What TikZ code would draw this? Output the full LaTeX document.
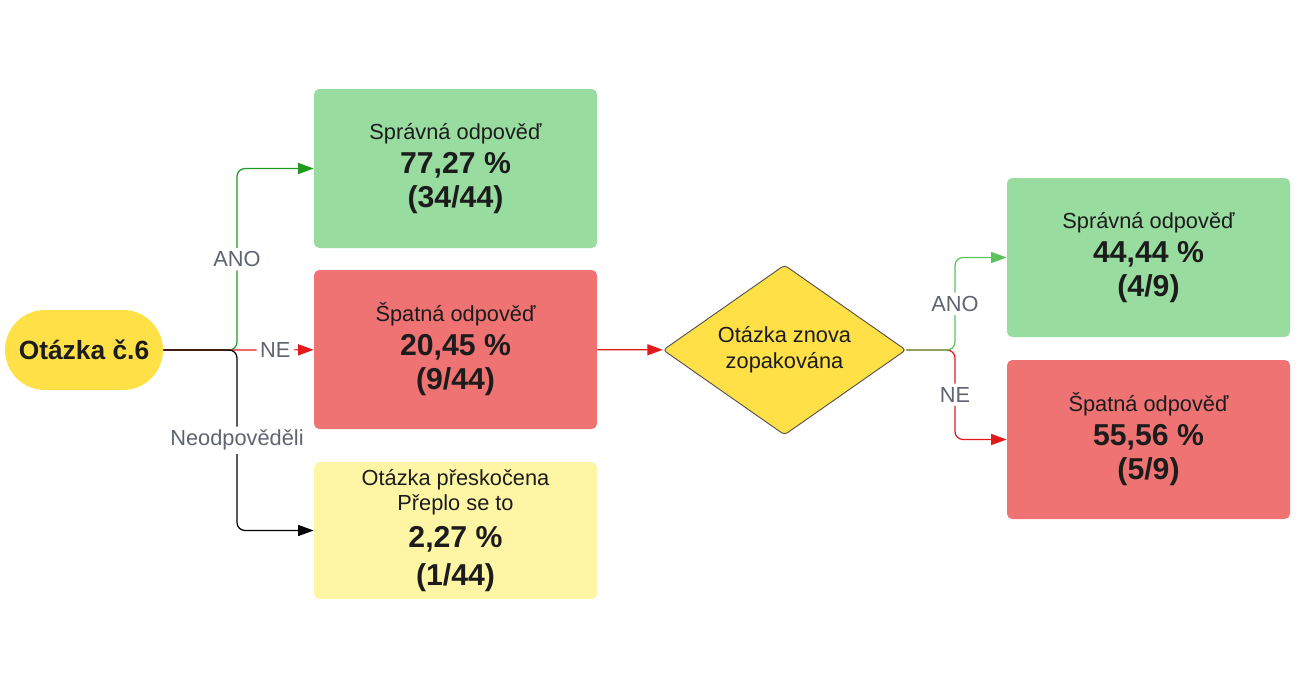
\documentclass[tikz,border=0pt]{standalone}
\usepackage{fontspec}
\setmainfont{Liberation Sans}
\usepackage{tikz}
\usetikzlibrary{shapes.geometric,arrows.meta}

\definecolor{zelenybox}{HTML}{98DCA0}
\definecolor{cervenybox}{HTML}{F07373}
\definecolor{zlutybox}{HTML}{FFF6A5}
\definecolor{zluta}{HTML}{FFE047}
\definecolor{zelena1}{HTML}{1E9B1E}
\definecolor{zelena2}{HTML}{5CC35C}
\definecolor{cervena}{HTML}{E3191C}
\definecolor{popisc}{HTML}{5F6470}
\definecolor{textc}{HTML}{1C1C1C}

\newcommand{\cislo}[1]{{\fontsize{17.2}{19.3}\selectfont\bfseries #1}}

\begin{document}
\begin{tikzpicture}[
  >={Triangle[length=0.31cm,width=0.22cm]},
  box/.style={rounded corners=3pt, align=center, minimum width=5.66cm, minimum height=3.18cm, inner sep=0pt, text=textc, font=\fontsize{12.4}{19.3}\selectfont},
  popis/.style={fill=white, text=popisc, font=\fontsize{12.4}{14}\selectfont, inner sep=2pt},
  spoj/.style={line width=0.7pt, rounded corners=0.16cm}
]
\useasboundingbox (0,0) rectangle (26,-14);

\node[fill=zluta, rounded corners=0.8cm, minimum width=3.16cm, minimum height=1.6cm, text=textc, font=\fontsize{15}{18}\selectfont\bfseries] at (1.68,-7) (otazka) {Otázka č.6};
\coordinate (rozc1) at (4.74,-7);

\node[box, fill=zelenybox] at (9.11,-3.37) (spravne1) {Správná odpověď\\ \cislo{77,27 \%}\\ \cislo{(34/44)}};
\node[box, fill=cervenybox] at (9.11,-6.99) (spatne1) {Špatná odpověď\\ \cislo{20,45 \%}\\ \cislo{(9/44)}};
\node[box, fill=zlutybox, minimum height=2.74cm, font=\fontsize{12.4}{14.2}\selectfont] at (9.11,-10.61) (preskoceno) {Otázka přeskočena\\ Přeplo se to\\[5.5pt] \cislo{2,27 \%}\\[5.5pt] \cislo{(1/44)}};

\node[diamond, aspect=1.6, fill=zluta, draw=black!70, line width=0.5pt, rounded corners=2pt, minimum width=4.86cm, minimum height=3.4cm, inner sep=0pt, align=center, text=textc, font=\fontsize{12.4}{14.8}\selectfont] at (15.69,-7) (znova) {Otázka znova\\ zopakována};
\coordinate (rozc2) at (19.1,-7);

\node[box, fill=zelenybox] at (22.97,-5.15) (spravne2) {Správná odpověď\\ \cislo{44,44 \%}\\ \cislo{(4/9)}};
\node[box, fill=cervenybox] at (22.97,-8.79) (spatne2) {Špatná odpověď\\ \cislo{55,56 \%}\\ \cislo{(5/9)}};

% prvni otazka
\draw[spoj, zelena1, ->] (otazka) -- (rozc1) |- node[popis, pos=0.25] {ANO} (spravne1);
\draw[spoj, cervena, ->] (otazka) -- (rozc1) -- node[popis, midway] {NE} (spatne1);
\draw[spoj, black, ->] (otazka) -- (rozc1) |- node[popis, pos=0.25] {Neodpověděli} (preskoceno);

% opakovani
\draw[spoj, cervena, ->] (spatne1) -- (znova);
\draw[spoj, cervena, ->] (znova) -- (rozc2) |- node[popis, pos=0.25] {NE} (spatne2);
\draw[spoj, zelena2, ->] (znova) -- (rozc2) |- node[popis, pos=0.25] {ANO} (spravne2);
\end{tikzpicture}
\end{document}
